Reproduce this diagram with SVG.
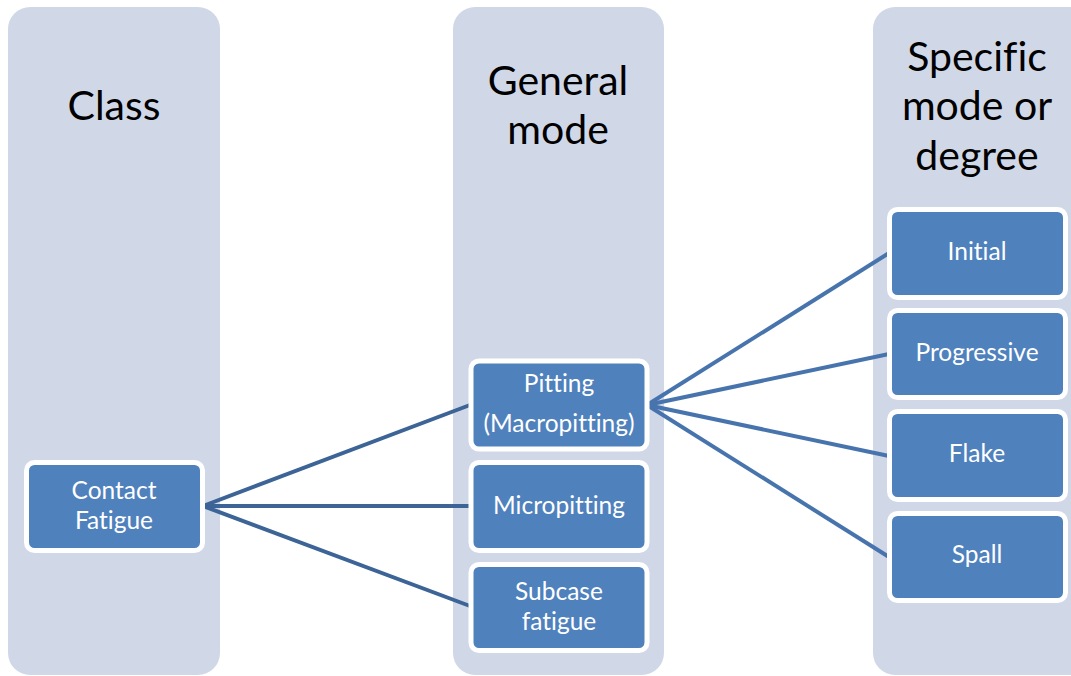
<svg xmlns="http://www.w3.org/2000/svg" width="1071" height="676" viewBox="0 0 1071 676">
  <style>
    .col { fill: #d0d8e8; }
    .node { fill: #4f81bd; stroke: #ffffff; stroke-width: 5; }
    .head { font-family: Lato, "Open Sans", "Liberation Sans", sans-serif; font-size: 41px; fill: #000000; text-anchor: middle; font-variant-ligatures: none; }
    .lbl { font-family: Lato, "Open Sans", "Liberation Sans", sans-serif; font-size: 24.5px; fill: #ffffff; text-anchor: middle; font-variant-ligatures: none; }
    .edge-l { stroke: #3c6496; stroke-width: 4; fill: none; }
    .edge-r { stroke: #4874ae; stroke-width: 4; fill: none; }
  </style>

  <rect width="1071" height="676" fill="#ffffff"/>

  <!-- column backgrounds -->
  <g id="columns">
    <rect class="col" x="8" y="7" width="212" height="668" rx="22"/>
    <rect class="col" x="453" y="7" width="211" height="668" rx="22"/>
    <rect class="col" x="873" y="7" width="230" height="668" rx="22"/>
  </g>

  <!-- column headings -->
  <g id="headings">
    <text class="head" x="114" y="120">Class</text>
    <text class="head" x="558" y="95">General</text>
    <text class="head" x="558" y="144">mode</text>
    <text class="head" x="977" y="71">Specific</text>
    <text class="head" x="977" y="120">mode or</text>
    <text class="head" x="977" y="170">degree</text>
  </g>

  <!-- connectors -->
  <g id="connectors">
    <line class="edge-l" x1="203" y1="506" x2="470" y2="405"/>
    <line class="edge-l" x1="203" y1="506" x2="470" y2="506"/>
    <line class="edge-l" x1="203" y1="506" x2="470" y2="606"/>
    <line class="edge-r" x1="647" y1="405" x2="889" y2="253"/>
    <line class="edge-r" x1="647" y1="405" x2="889" y2="354"/>
    <line class="edge-r" x1="647" y1="405" x2="889" y2="456"/>
    <line class="edge-r" x1="647" y1="405" x2="889" y2="557"/>
  </g>

  <g id="contact-fatigue">
    <rect class="node" x="26.5" y="462.5" width="176" height="88" rx="8"/>
    <text class="lbl" x="114" y="499">Contact</text>
    <text class="lbl" x="114" y="529">Fatigue</text>
  </g>

  <g id="pitting">
    <rect class="node" x="471" y="361" width="176" height="88" rx="8"/>
    <text class="lbl" x="559" y="392">Pitting</text>
    <text class="lbl" x="559" y="432">(Macropitting)</text>
  </g>

  <g id="micropitting">
    <rect class="node" x="471" y="462.5" width="176" height="88" rx="8"/>
    <text class="lbl" x="559" y="514">Micropitting</text>
  </g>

  <g id="subcase-fatigue">
    <rect class="node" x="471" y="564.5" width="176" height="86" rx="8"/>
    <text class="lbl" x="559" y="600">Subcase</text>
    <text class="lbl" x="559" y="630">fatigue</text>
  </g>

  <g id="initial">
    <rect class="node" x="889.5" y="209.5" width="176" height="88" rx="8"/>
    <text class="lbl" x="977" y="260">Initial</text>
  </g>

  <g id="progressive">
    <rect class="node" x="889.5" y="310.5" width="176" height="87" rx="8"/>
    <text class="lbl" x="977" y="361">Progressive</text>
  </g>

  <g id="flake">
    <rect class="node" x="889.5" y="411.5" width="176" height="88" rx="8"/>
    <text class="lbl" x="977" y="462">Flake</text>
  </g>

  <g id="spall">
    <rect class="node" x="889.5" y="513.5" width="176" height="87" rx="8"/>
    <text class="lbl" x="977" y="563">Spall</text>
  </g>
</svg>
